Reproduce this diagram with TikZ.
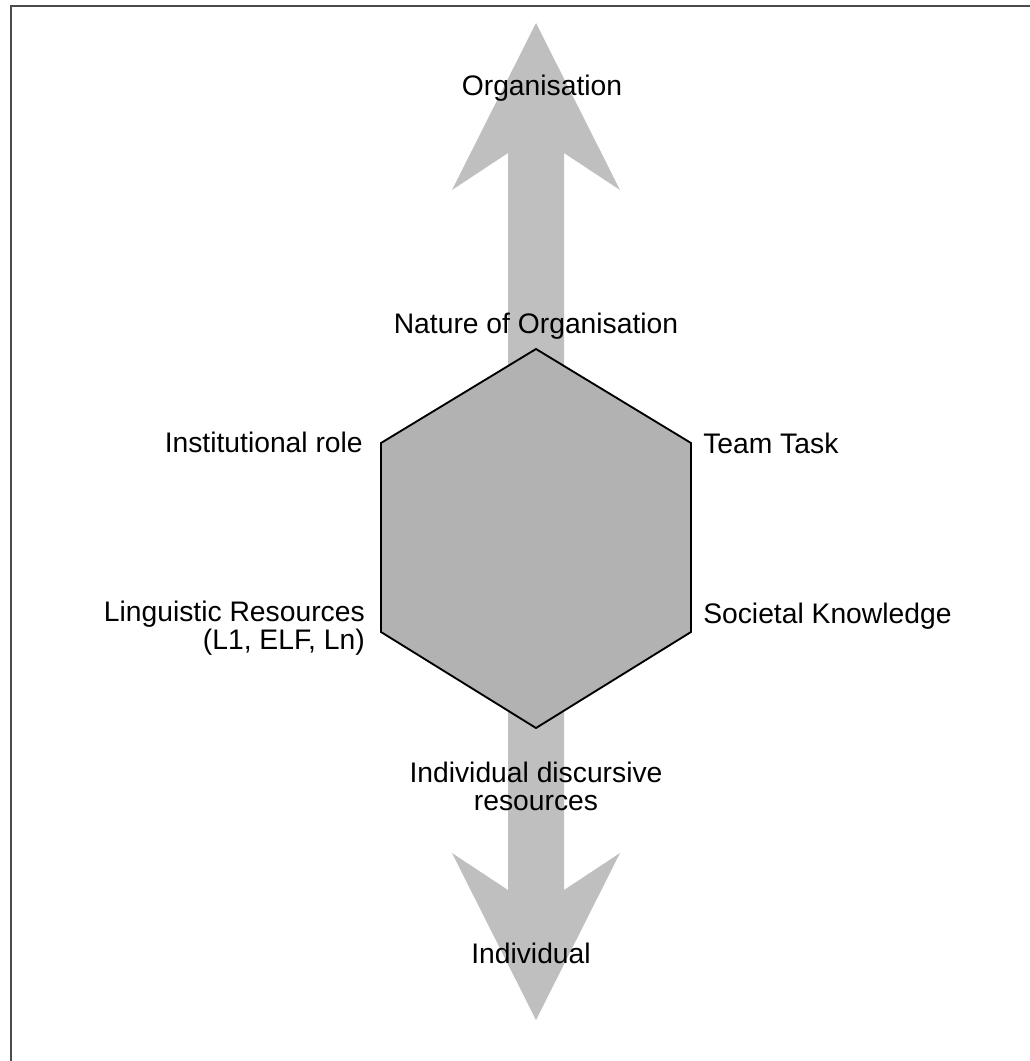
\documentclass[tikz,border=0pt]{standalone}
\usepackage{fontspec}
\setmainfont{Liberation Sans}
\definecolor{axisgray}{gray}{0.75}
\definecolor{hexgray}{gray}{0.70}
\tikzset{
  factor/.style={inner sep=0pt, font=\fontsize{21.2}{20.6}\selectfont},
}

\begin{document}
\begin{tikzpicture}[x=0.75pt, y=-0.75pt]
  \useasboundingbox (0,0) rectangle (1030,1061);

  % Frame (top and left edges)
  \draw[line width=1.5pt, black!70] (11,1061) -- (11,6) -- (1030,6);

  % Vertical axis: double-headed block arrow
  \fill[axisgray] (536,23) -- (620,190) -- (564,153) -- (564,890)
    -- (620,853) -- (536,1020) -- (452,853) -- (508,890)
    -- (508,153) -- (452,190) -- cycle;

  % Hexagon
  \filldraw[fill=hexgray, draw=black, line width=1.4pt]
    (536,349) -- (691,443) -- (691,632) -- (536,728)
    -- (381,632) -- (381,443) -- cycle;

  % Axis ends
  \node[factor, anchor=base] (org) at (542,95) {Organisation};
  \node[factor, anchor=base] (ind) at (531,963) {Individual};

  % Corner labels (base = last line)
  \node[factor, anchor=base] (nature) at (536,333) {Nature of Organisation};
  \node[factor, anchor=base east] (role) at (363,452) {Institutional role};
  \node[factor, anchor=base west] (task) at (703,453) {Team Task};
  \node[factor, anchor=base east, align=right] (ling) at (365,649)
    {Linguistic Resources\\(L1, ELF, Ln)};
  \node[factor, anchor=base west] (soc) at (703,623) {Societal Knowledge};
  \node[factor, anchor=base, align=center] (disc) at (536,810)
    {Individual discursive\\resources};
\end{tikzpicture}
\end{document}
